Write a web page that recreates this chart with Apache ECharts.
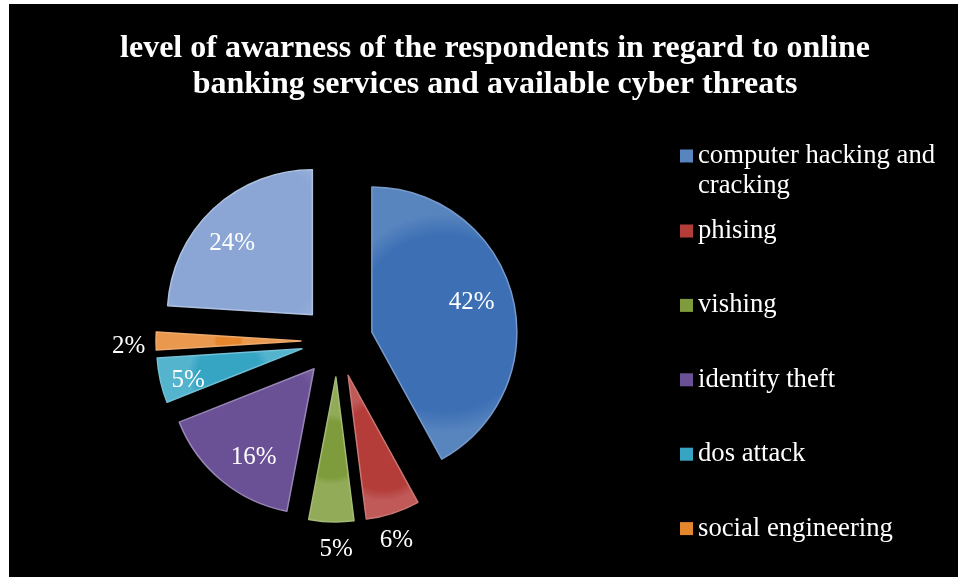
<!DOCTYPE html>
<html>
<head>
<meta charset="utf-8">
<script src="https://cdn.jsdelivr.net/npm/echarts@6/dist/echarts.min.js"></script>
<style>
  html, body { margin: 0; padding: 0; background: #ffffff; }
  #chart { width: 958px; height: 577px; }
</style>
</head>
<body>
<div id="chart"></div>
<script>
// Survey results: awareness of cyber threats related to online banking
const titleText = 'level of awarness of the respondents in regard to online\nbanking services and available cyber threats';
const categories = [
  'computer hacking and cracking',
  'phising',
  'vishing',
  'identity theft',
  'dos attack',
  'social engineering',
  'others'
];
const shares = [42, 6, 5, 16, 5, 2, 24];

// slice palette
const palette = ['#3c6fb4', '#b43d3a', '#7e9c3b', '#6a5095', '#36a5c4', '#e5862d', '#8ba6d4'];

const SERIF = '"Liberation Serif", "Times New Roman", serif';
const CENTER = [337, 341];
const RADIUS = 145;
const EXPLODE = 36;

function lighten(hex, t) {
  const n = parseInt(hex.slice(1), 16);
  const r = (n >> 16) & 255, g = (n >> 8) & 255, b = n & 255;
  const m = v => Math.round(v + (255 - v) * t);
  return 'rgb(' + m(r) + ',' + m(g) + ',' + m(b) + ')';
}

const sliceData = categories.map((name, i) => ({
  name: name,
  value: shares[i],
  selected: true,
  itemStyle: {
    color: {
      type: 'radial', x: 0.5, y: 0.5, r: 0.75,
      colorStops: [
        { offset: 0, color: palette[i] },
        { offset: 0.8, color: palette[i] },
        { offset: 1, color: lighten(palette[i], 0.15) }
      ]
    },
    borderColor: lighten(palette[i], 0.3),
    borderWidth: 1.5
  }
}));

// percentage labels are drawn by transparent rings whose mid radius sets the label distance
const labelRings = [
  { radius: [112, 162], startAngle: 91.5, items: [0] },
  { radius: [114, 166], startAngle: 94, items: [3, 6] },
  { radius: [136, 166], startAngle: 92.4, items: [4] },
  { radius: [185, 225], startAngle: 88.6, items: [1] },
  { radius: [186, 225], startAngle: 91.6, items: [2, 5] }
];

const labelSeries = labelRings.map(ring => ({
  type: 'pie',
  silent: true,
  center: CENTER,
  radius: ring.radius,
  startAngle: ring.startAngle,
  clockwise: true,
  legendHoverLink: false,
  z: 5,
  itemStyle: { color: 'rgba(0,0,0,0)' },
  labelLine: { show: false },
  emphasis: { disabled: true },
  data: categories.map((name, i) => ({
    name: name,
    value: shares[i],
    label: {
      show: ring.items.indexOf(i) >= 0,
      position: 'inside',
      formatter: '{c}%',
      color: '#ffffff',
      fontFamily: SERIF,
      fontSize: 25
    }
  }))
}));

const chart = echarts.init(document.getElementById('chart'), null, { renderer: 'canvas' });

const legendText = {
  color: '#ffffff',
  fontFamily: SERIF,
  fontSize: 26.7
};

// tall legend marker with the square at its top, so a wrapped name starts level with it
const topSquare = 'path://M0,0h13v13h-13zM0,43h0.01v0.01h-0.01z';

chart.setOption({
  backgroundColor: '#ffffff',
  animation: false,
  color: palette,
  graphic: [{
    type: 'rect',
    left: 9, top: 4,
    shape: { width: 949, height: 573 },
    style: { fill: '#000000' },
    z: -10
  }],
  title: {
    text: titleText,
    left: 490,
    top: 26,
    textAlign: 'center',
    textStyle: {
      color: '#ffffff',
      fontFamily: SERIF,
      fontWeight: 'bold',
      fontSize: 32,
      lineHeight: 36
    }
  },
  legend: [{
    orient: 'vertical',
    left: 675,
    top: 136,
    itemWidth: 13,
    itemHeight: 43,
    icon: topSquare,
    itemStyle: { borderWidth: 0 },
    selectedMode: false,
    data: [categories[0]],
    textStyle: Object.assign({ width: 255, overflow: 'break', lineHeight: 30 }, legendText)
  }, {
    orient: 'vertical',
    left: 675,
    top: 211,
    itemWidth: 13,
    itemHeight: 13,
    itemGap: 44.4,
    icon: 'rect',
    itemStyle: { borderWidth: 0 },
    selectedMode: false,
    data: categories.slice(1, 6),
    textStyle: Object.assign({ lineHeight: 30 }, legendText)
  }],
  series: [{
    type: 'pie',
    center: CENTER,
    radius: [0, RADIUS],
    startAngle: 90,
    clockwise: true,
    selectedMode: 'multiple',
    selectedOffset: EXPLODE,
    label: { show: false },
    labelLine: { show: false },
    emphasis: { disabled: true },
    data: sliceData
  }].concat(labelSeries)
});
</script>
</body>
</html>
